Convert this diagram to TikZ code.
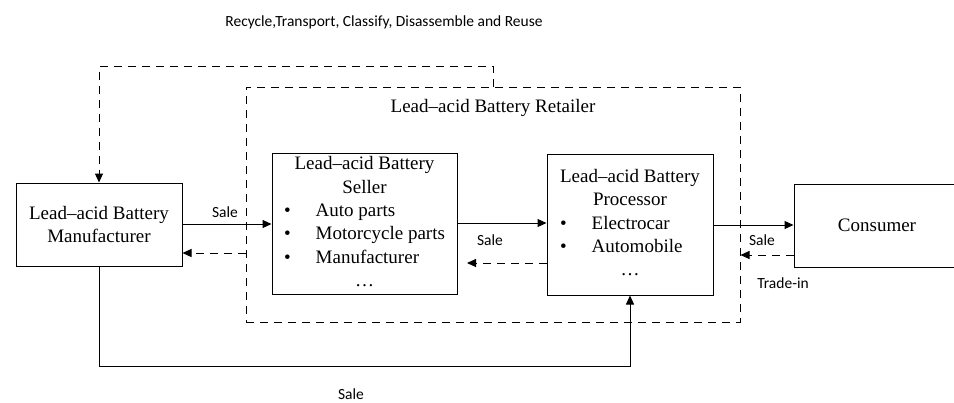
\documentclass[tikz,border=0pt]{standalone}
\usepackage{fontspec}
\setmainfont{Liberation Serif}
\newfontfamily\labfont{Carlito}
\usetikzlibrary{arrows.meta}
\begin{document}
\begin{tikzpicture}[x=1pt,y=-1pt,
  box/.style={draw,line width=1pt,inner sep=0pt,font=\fontsize{19}{23.3}\selectfont,align=center},
  arr/.style={line width=1pt,-{Triangle[length=9pt,width=8pt]}},
  dsh/.style={line width=1pt,dash pattern=on 8pt off 6pt},
  lab/.style={inner sep=0pt,font=\labfont\fontsize{15.5}{18}\selectfont}]
\useasboundingbox (0,0) rectangle (954,402);
\clip (0,0) rectangle (954,402);
% boxes
\node[box,dsh,minimum width=494pt,minimum height=235pt] (retailer) at (493,204.5) {};
\node[inner sep=0pt,font=\fontsize{19}{23.3}\selectfont] (rlabel) at (493,108) {Lead–acid Battery Retailer};
\node[box,minimum width=166pt,minimum height=83pt] (manu) at (99,224.5) {Lead–acid Battery\\Manufacturer};
\node[box,minimum width=185pt,minimum height=141pt] (seller) at (364.5,223.5) {%
\begin{tabular}{@{}l@{\hspace{25pt}}l@{}}
\multicolumn{2}{@{}c@{}}{Lead–acid Battery}\\
\multicolumn{2}{@{}c@{}}{Seller}\\
\textbullet & Auto parts\\
\textbullet & Motorcycle parts\\
\textbullet & Manufacturer\\
\multicolumn{2}{@{}c@{}}{\ldots}
\end{tabular}};
\node[box,minimum width=166pt,minimum height=141pt] (proc) at (630,224.5) {%
\begin{tabular}{@{}l@{\hspace{25pt}}l@{}}
\multicolumn{2}{@{}c@{}}{Lead–acid Battery}\\
\multicolumn{2}{@{}c@{}}{Processor}\\
\textbullet & Electrocar\\
\textbullet & Automobile\\
\multicolumn{2}{@{}c@{}}{\ldots}
\end{tabular}};
\node[box,minimum width=166pt,minimum height=83pt] (cons) at (877,225.5) {Consumer};
% helper coordinates
\coordinate (loopR) at (493,66);
\coordinate (bot) at (99,366);
% connectors
\draw[arr] (manu.east |- 0,224) -- (seller.west |- 0,224);
\draw[dsh,arr] (retailer.west |- 0,253) -- (manu.east |- 0,253);
\draw[arr] (seller.east |- 0,223) -- (proc.west |- 0,223);
\draw[dsh,arr] (proc.west |- 0,263) -- (467,263);
\draw[arr] (proc.east |- 0,225) -- (cons.west |- 0,225);
\draw[dsh,arr] (cons.west |- 0,255) -- (retailer.east |- 0,255);
\draw[arr] (manu.south) -- (bot) -| (proc.south);
\draw[dsh,arr] (retailer.north) -- (loopR) -| (manu.north);
% labels
\node[lab] (l1) at (225,212) {Sale};
\node[lab] (l2) at (490,240) {Sale};
\node[lab] (l3) at (762,240) {Sale};
\node[lab] (l4) at (783,283) {Trade-in};
\node[lab] (l5) at (351,394) {Sale};
\node[lab] (l6) at (384,22) {Recycle,Transport, Classify, Disassemble and Reuse};
\end{tikzpicture}
\end{document}
